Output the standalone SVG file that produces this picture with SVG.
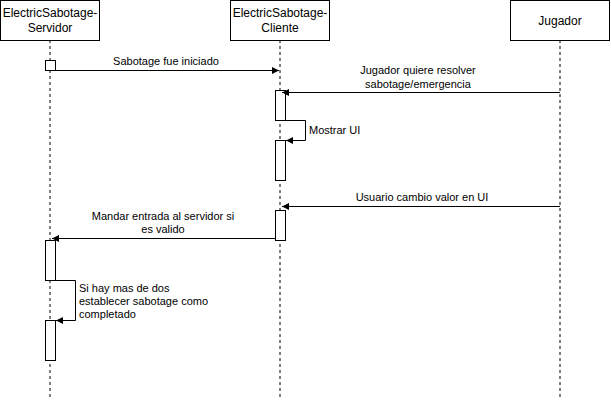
<svg xmlns="http://www.w3.org/2000/svg" width="611" height="401" viewBox="0 0 611 401">
<style>
.box{fill:#fff;stroke:#000;stroke-width:1}
.life{stroke:#000;stroke-width:1;stroke-dasharray:3 3;fill:none}
.msg{stroke:#000;stroke-width:1;fill:none;marker-end:url(#arr)}
.hd{font-family:"Liberation Sans",Arial,sans-serif;font-size:12px;fill:#000;text-anchor:middle}
.lb{font-family:"Liberation Sans",Arial,sans-serif;font-size:11px;fill:#000}
.c{text-anchor:middle}
</style>
<defs>
<marker id="arr" markerWidth="8" markerHeight="8" refX="7" refY="3.5" orient="auto" markerUnits="userSpaceOnUse">
<path d="M0,0 L7,3.5 L0,7 Z" fill="#000"/>
</marker>
</defs>
<rect width="611" height="401" fill="#fff"/>
<g id="servidor">
<line class="life" x1="50" y1="40" x2="50" y2="400"/>
<rect class="box" x="0.5" y="0.5" width="99" height="40"/>
<text class="hd" x="50" y="17">ElectricSabotage-</text>
<text class="hd" x="50" y="32">Servidor</text>
</g>
<g id="cliente">
<line class="life" x1="280" y1="40" x2="280" y2="400"/>
<rect class="box" x="230.5" y="0.5" width="99" height="40"/>
<text class="hd" x="280" y="17">ElectricSabotage-</text>
<text class="hd" x="280" y="32">Cliente</text>
</g>
<g id="jugador">
<line class="life" x1="560" y1="40" x2="560" y2="400"/>
<rect class="box" x="510.5" y="0.5" width="99" height="40"/>
<text class="hd" x="560" y="25">Jugador</text>
</g>
<g id="activations">
<rect class="box" x="45.5" y="60.5" width="10" height="10"/>
<rect class="box" x="275.5" y="90.5" width="10" height="30"/>
<rect class="box" x="275.5" y="140.5" width="10" height="40"/>
<rect class="box" x="275.5" y="210.5" width="10" height="30"/>
<rect class="box" x="45.5" y="240.5" width="10" height="40"/>
<rect class="box" x="45.5" y="320.5" width="10" height="40"/>
</g>
<g id="connectors">
<path class="msg" d="M55,70.5 L279,70.5"/>
<path class="msg" d="M560,92.5 L282,92.5"/>
<path class="msg" d="M285,120.5 L305.5,120.5 L305.5,140.5 L286,140.5"/>
<path class="msg" d="M560,206.5 L282,206.5"/>
<path class="msg" d="M275,238.5 L52,238.5"/>
<path class="msg" d="M55,280.5 L75.5,280.5 L75.5,320.5 L56,320.5"/>
</g>
<g id="labels">
<text class="lb c" x="166" y="65">Sabotage fue iniciado</text>
<text class="lb c" x="418" y="74">Jugador quiere resolver</text>
<text class="lb c" x="418" y="88">sabotage/emergencia</text>
<text class="lb" x="309" y="134">Mostrar UI</text>
<text class="lb c" x="422" y="201">Usuario cambio valor en UI</text>
<text class="lb c" x="163" y="220">Mandar entrada al servidor si</text>
<text class="lb c" x="163" y="233">es valido</text>
<text class="lb" x="79" y="292">Si hay mas de dos</text>
<text class="lb" x="79" y="305">establecer sabotage como</text>
<text class="lb" x="79" y="318">completado</text>
</g>
</svg>
